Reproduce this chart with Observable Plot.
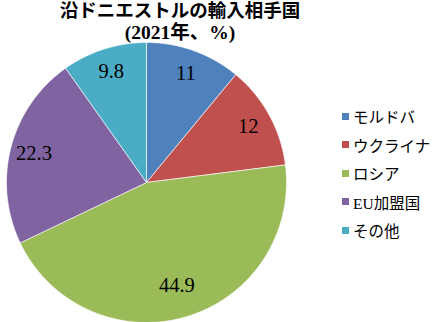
<!DOCTYPE html>
<html><head><meta charset="utf-8">
<script src="https://cdn.jsdelivr.net/npm/d3@7"></script>
<script src="https://cdn.jsdelivr.net/npm/@observablehq/plot@0.6"></script>
<style>
body{margin:0;background:#fff;}
#wrap{position:relative;width:443px;height:322px;overflow:hidden;font-family:"Liberation Serif","DejaVu Serif","Noto Sans CJK JP",serif;color:#000;}
#chart{position:absolute;left:0;top:0;}
#title{position:absolute;left:0;width:360px;top:0;text-align:center;font-weight:bold;font-size:18.5px;line-height:22px;}
#title .sub{font-size:19.5px;}
#legend{position:absolute;left:342px;top:102px;font-size:15.5px;}
.row{height:28.5px;display:flex;align-items:center;white-space:nowrap;}
.sw{width:7px;height:7px;margin-right:4px;flex:none;}
</style></head>
<body>
<div id="wrap">
<div id="chart"></div>
<div id="title">沿ドニエストルの輸入相手国<br><span class="sub">(2021年、%)</span></div>
<div id="legend"></div>
</div>
<script>
const categories = ["モルドバ","ウクライナ","ロシア","EU加盟国","その他"];
const values = [11, 12, 44.9, 22.3, 9.8];
const colors = ["#4F81BD","#C0504D","#9BBB59","#8064A2","#4BACC6"];

const arcs = d3.pie().sort(null).value(d => d)(values);
const pts = [];
const labels = [];
arcs.forEach((a, i) => {
  const cat = categories[i];
  pts.push({x: 0, y: 0, cat});
  const n = Math.max(2, Math.ceil((a.endAngle - a.startAngle) / 0.005));
  for (let k = 0; k <= n; k++) {
    const t = a.startAngle + (a.endAngle - a.startAngle) * k / n;
    pts.push({x: Math.sin(t), y: Math.cos(t), cat});
  }
  pts.push({x: 0, y: 0, cat});
  const m = (a.startAngle + a.endAngle) / 2;
  const r = values[i] > 40 ? 0.77 : 0.83;
  labels.push({x: r * Math.sin(m), y: r * Math.cos(m), text: String(values[i])});
});

const chart = Plot.plot({
  width: 443, height: 322, margin: 0,
  style: {background: "transparent", fontFamily: '"Liberation Serif","DejaVu Serif",serif'},
  x: {domain: [-1, 1], range: [6, 286], axis: null},
  y: {domain: [-1, 1], range: [322, 42], axis: null},
  color: {domain: categories, range: colors},
  marks: [
    Plot.line(pts, {x: "x", y: "y", z: "cat", fill: "cat", stroke: "#ffffff", strokeWidth: 0.8, strokeOpacity: 0.8}),
    Plot.text(labels, {x: "x", y: "y", text: "text", fontSize: 20.5, fill: "#000", textAnchor: "middle"})
  ]
});
document.getElementById("chart").appendChild(chart);

const lg = document.getElementById("legend");
categories.forEach((c, i) => {
  const row = document.createElement("div");
  row.className = "row";
  const sw = document.createElement("span");
  sw.className = "sw";
  sw.style.background = colors[i];
  const tx = document.createElement("span");
  tx.textContent = c;
  row.appendChild(sw); row.appendChild(tx);
  lg.appendChild(row);
});
</script>
</body></html>
